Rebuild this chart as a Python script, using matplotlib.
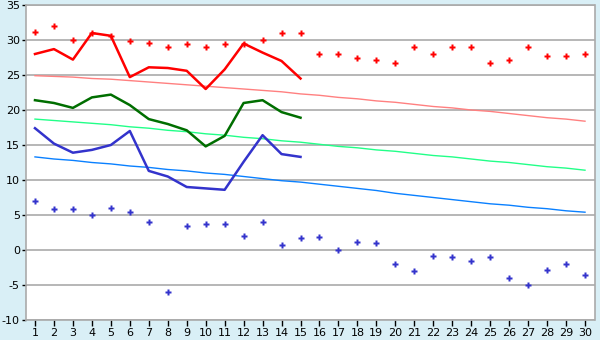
import matplotlib
matplotlib.use("Agg")
import matplotlib.pyplot as plt

# дни месяца
days = list(range(1, 31))
days_obs = list(range(1, 16))

# фактические значения (первые 15 дней)
t_max = [28.0, 28.7, 27.2, 31.0, 30.6, 24.7, 26.1, 26.0, 25.6, 23.0, 25.8, 29.5, 28.2, 27.0, 24.5]
t_mean = [21.4, 21.0, 20.3, 21.8, 22.2, 20.7, 18.7, 18.0, 17.1, 14.8, 16.3, 21.0, 21.4, 19.7, 18.9]
t_min = [17.4, 15.2, 13.9, 14.3, 15.0, 17.0, 11.3, 10.5, 9.0, 8.8, 8.6, 12.6, 16.4, 13.7, 13.3]

# рекорды
rec_max = [31.1, 32.0, 30.0, 31.0, 30.6, 29.8, 29.6, 29.0, 29.4, 29.0, 29.4, 29.5, 30.0, 31.0, 31.0,
           28.0, 28.0, 27.4, 27.2, 26.7, 29.0, 28.0, 29.0, 29.0, 26.7, 27.2, 29.0, 27.7, 27.7, 28.0]
rec_min = [7.0, 5.8, 5.8, 5.0, 6.0, 5.4, 4.0, -6.0, 3.4, 3.7, 3.7, 2.0, 4.0, 0.7, 1.7,
           1.8, 0.0, 1.1, 1.0, -2.0, -3.0, -0.9, -1.0, -1.6, -1.0, -4.0, -5.0, -2.8, -2.0, -3.5]

# нормы
norm_max = [24.9, 24.8, 24.7, 24.5, 24.4, 24.2, 24.0, 23.8, 23.6, 23.4, 23.2, 23.0, 22.8, 22.6, 22.3,
            22.1, 21.8, 21.6, 21.3, 21.1, 20.8, 20.5, 20.3, 20.0, 19.8, 19.5, 19.2, 18.9, 18.7, 18.4]
norm_mean = [18.7, 18.5, 18.3, 18.1, 17.9, 17.6, 17.4, 17.1, 16.9, 16.6, 16.4, 16.1, 15.9, 15.6, 15.4,
             15.1, 14.8, 14.6, 14.3, 14.1, 13.8, 13.5, 13.3, 13.0, 12.7, 12.5, 12.2, 11.9, 11.7, 11.4]
norm_min = [13.3, 13.0, 12.8, 12.5, 12.3, 12.0, 11.8, 11.5, 11.3, 11.0, 10.8, 10.5, 10.2, 9.9, 9.7,
            9.4, 9.1, 8.8, 8.5, 8.1, 7.8, 7.5, 7.2, 6.9, 6.6, 6.4, 6.1, 5.9, 5.6, 5.4]

plt.rcParams['font.family'] = ['DejaVu Sans']
plt.rcParams['axes.unicode_minus'] = False

fig = plt.figure(figsize=(6, 3.4), dpi=100, facecolor='#D9EFF6')
ax = fig.add_axes([25.5 / 600, 1 - 320 / 340, 569 / 600, 315 / 340])
ax.set_facecolor('white')

for y in range(-10, 36, 5):
    ax.axhline(y, color='#AAAAAA', lw=1.2, zorder=1)

ax.plot(days, norm_max, color='#FF8080', lw=1.0, zorder=2)
ax.plot(days, norm_mean, color='#22FF88', lw=1.0, zorder=2)
ax.plot(days, norm_min, color='#0A80FF', lw=1.0, zorder=2)

ax.plot(days_obs, t_max, color='#FF0000', lw=1.8, zorder=3)
ax.plot(days_obs, t_mean, color='#006E00', lw=1.8, zorder=3)
ax.plot(days_obs, t_min, color='#3333CC', lw=1.8, zorder=3)

ax.plot(days, rec_max, ls='none', marker='P', ms=4.6, color='#FF0000', mec='none', zorder=4)
ax.plot(days, rec_min, ls='none', marker='P', ms=4.6, color='#3333CC', mec='none', zorder=4)

ax.set_xlim(0.5, 30.5)
ax.set_ylim(-10, 35)
ax.set_xticks(days)
ax.set_yticks(range(-10, 36, 5))
ax.tick_params(axis='x', length=4, width=1, color='black', labelsize=8, pad=2)
ax.tick_params(axis='y', length=3, width=1, color='black', labelsize=8, pad=1)
for s in ax.spines.values():
    s.set_color('#AAAAAA')
    s.set_linewidth(1.2)

fig.savefig('out.png', dpi=100, facecolor=fig.get_facecolor())
